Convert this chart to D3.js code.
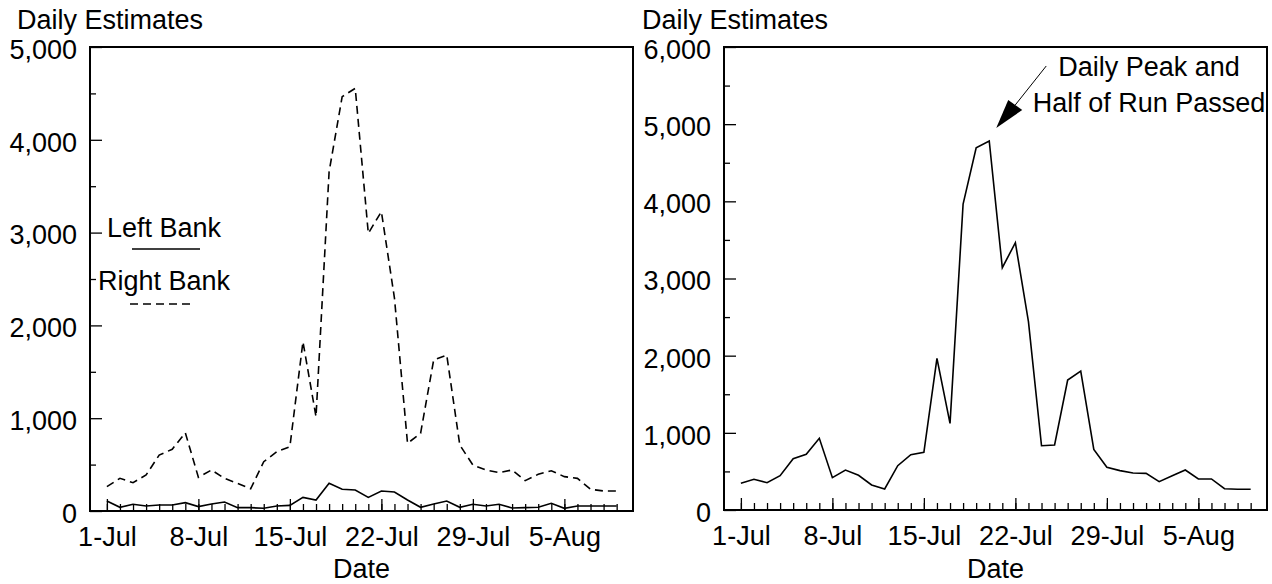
<!DOCTYPE html>
<html lang="en">
<head>
    <meta charset="UTF-8">
    <title>Daily Estimates</title>
    <script src="https://d3js.org/d3.v7.min.js"></script>
    <style>
        body { margin: 0; background: #fff; }
        svg text { font-family: "Liberation Sans", Arial, sans-serif; font-size: 27px; fill: #000; }
    </style>
</head>
<body>
    <svg id="chart"></svg>

    <script>
        // days 1-Jul .. 9-Aug
        const dates = d3.timeDay.range(new Date(2009, 6, 1), new Date(2009, 7, 10));
        const tickLabels = ["1-Jul", "8-Jul", "15-Jul", "22-Jul", "29-Jul", "5-Aug"];

        const leftBank = [108, 40, 72, 54, 65, 65, 90, 47, 75, 97,
                          36, 36, 29, 54, 61, 147, 118, 298, 234, 226,
                          147, 216, 205, 118, 40, 75, 108, 40, 72, 54,
                          72, 32, 36, 40, 83, 29, 54, 54, 54, 54];
        const rightBank = [262, 352, 305, 388, 603, 665, 844, 363, 442, 352,
                           298, 240, 531, 639, 693, 1824, 1016, 3656, 4465, 4555,
                           2992, 3226, 2295, 729, 837, 1627, 1681, 711, 496, 442,
                           413, 442, 327, 395, 434, 370, 352, 234, 216, 216];
        const combined = [346, 398, 354, 445, 665, 722, 929, 419, 518, 450,
                          324, 272, 574, 717, 747, 1966, 1123, 3965, 4695, 4782,
                          3140, 3464, 2440, 833, 842, 1685, 1801, 786, 553, 510,
                          479, 475, 367, 445, 518, 402, 402, 276, 268, 268];

        const W = 1272, H = 584;
        const fmt = d3.timeFormat("%-d-%b");
        const majorDates = dates.filter(d => tickLabels.includes(fmt(d)));

        const svg = d3.select("#chart").attr("width", W).attr("height", H);

        function drawPanel(left, top, w, h, ymax, titleX) {
            const g = svg.append("g").attr("transform", `translate(${left},${top})`);

            const x = d3.scaleTime()
                .domain([d3.timeHour.offset(dates[0], -31), d3.timeHour.offset(dates[0], 966)])
                .range([0, w]);
            const y = d3.scaleLinear().domain([0, ymax]).range([h, 0]);

            // minor ticks
            g.append("g").attr("transform", `translate(0,${h})`)
                .call(d3.axisBottom(x).tickValues(dates).tickSize(-7).tickFormat(""))
                .call(a => a.select(".domain").remove());
            g.append("g")
                .call(d3.axisLeft(y).tickValues(d3.range(500, ymax, 1000)).tickSize(-6).tickFormat(""))
                .call(a => a.select(".domain").remove());

            // major ticks + labels
            g.append("g").attr("transform", `translate(0,${h})`)
                .call(d3.axisBottom(x).tickValues(majorDates).tickSize(-12).tickPadding(16).tickFormat(fmt))
                .call(a => a.select(".domain").remove())
                .call(a => a.selectAll("text").attr("font-size", null).attr("font-family", null));
            g.append("g")
                .call(d3.axisLeft(y).tickValues(d3.range(0, ymax + 1, 1000)).tickSize(-12).tickPadding(13).tickFormat(d3.format(",")))
                .call(a => a.select(".domain").remove())
                .call(a => a.selectAll("text").attr("dy", "0.42em").attr("font-size", null).attr("font-family", null));

            g.selectAll(".tick line").attr("stroke", "#000").attr("stroke-width", 1.3);

            g.append("rect")
                .attr("width", w).attr("height", h)
                .attr("fill", "none").attr("stroke", "#000").attr("stroke-width", 2);

            svg.append("text").attr("x", titleX).attr("y", 29).text("Daily Estimates");
            svg.append("text")
                .attr("x", left + w / 2).attr("y", 578)
                .attr("text-anchor", "middle").text("Date");

            return { g, x, y };
        }

        function addLine(p, values, dash) {
            const line = d3.line().x((d, i) => p.x(dates[i])).y(d => p.y(d));
            p.g.append("path")
                .datum(values)
                .attr("d", line)
                .attr("fill", "none")
                .attr("stroke", "#000")
                .attr("stroke-width", 1.6)
                .attr("stroke-dasharray", dash);
        }

        // left panel: banks
        const p1 = drawPanel(90, 47, 543, 464, 5000, 17);
        addLine(p1, rightBank, "8,5");
        addLine(p1, leftBank, null);

        // legend
        svg.append("text").attr("x", 107).attr("y", 237).text("Left Bank");
        svg.append("line").attr("x1", 132).attr("x2", 200).attr("y1", 249).attr("y2", 249)
            .attr("stroke", "#000").attr("stroke-width", 1.6);
        svg.append("text").attr("x", 98).attr("y", 290).text("Right Bank");
        svg.append("line").attr("x1", 130).attr("x2", 194).attr("y1", 304).attr("y2", 304)
            .attr("stroke", "#000").attr("stroke-width", 1.6).attr("stroke-dasharray", "8,5");

        // right panel: combined
        const p2 = drawPanel(724, 47, 543, 463, 6000, 642);
        addLine(p2, combined, null);

        // annotation pointing at the peak
        const peak = d3.maxIndex(combined);
        const tipX = 724 + p2.x(dates[peak]) + 7;
        const tipY = 47 + p2.y(combined[peak]) - 13;
        svg.append("line")
            .attr("x1", tipX + 50).attr("y1", tipY - 62)
            .attr("x2", tipX + 19).attr("y2", tipY - 23)
            .attr("stroke", "#000").attr("stroke-width", 1);
        svg.append("polygon")
            .attr("points", [[tipX, tipY], [tipX + 12, tipY - 28], [tipX + 26, tipY - 18]].join(" "))
            .attr("fill", "#000");
        svg.append("text").attr("x", 1149).attr("y", 76).attr("text-anchor", "middle").text("Daily Peak and");
        svg.append("text").attr("x", 1149).attr("y", 112).attr("text-anchor", "middle").text("Half of Run Passed");
    </script>
</body>
</html>
